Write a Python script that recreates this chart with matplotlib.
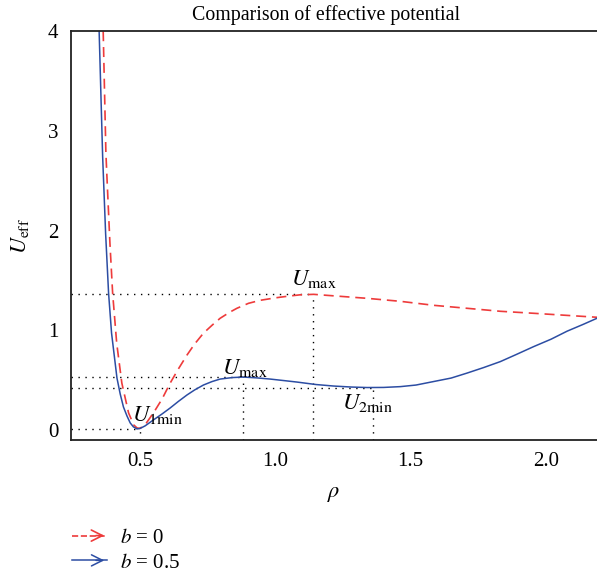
import numpy as np
import matplotlib
matplotlib.use("Agg")
import matplotlib.pyplot as plt
from matplotlib.lines import Line2D
from matplotlib.patches import FancyArrowPatch
from matplotlib.legend_handler import HandlerBase

plt.rcParams['font.family'] = ['Liberation Serif', 'DejaVu Serif']
plt.rcParams['mathtext.fontset'] = 'stix'

# b = 0 (red dashed)
rho_b0 = [0.362, 0.372, 0.377, 0.387, 0.397, 0.412, 0.431, 0.456, 0.475, 0.487,
          0.496, 0.507, 0.522, 0.548, 0.580, 0.610, 0.640, 0.672, 0.700, 0.733,
          0.765, 0.795, 0.830, 0.857, 0.900, 0.943, 1.000, 1.042, 1.090, 1.141,
          1.215, 1.339, 1.462, 1.585, 1.709, 1.832, 1.955, 2.190]
u_b0 = [4.00, 2.78, 2.47, 1.87, 1.37, 0.87, 0.47, 0.17, 0.05, 0.02,
        0.015, 0.03, 0.07, 0.17, 0.31, 0.47, 0.61, 0.75, 0.86, 0.97,
        1.05, 1.12, 1.18, 1.22, 1.27, 1.30, 1.325, 1.34, 1.355, 1.36,
        1.345, 1.32, 1.29, 1.25, 1.22, 1.19, 1.17, 1.13]

# b = 0.5 (blue solid)
rho_b05 = [0.347, 0.360, 0.371, 0.382, 0.393, 0.413, 0.425, 0.437, 0.450, 0.462,
           0.474, 0.487, 0.499, 0.517, 0.548, 0.580, 0.610, 0.640, 0.672, 0.700,
           0.733, 0.765, 0.795, 0.840, 0.881, 0.930, 0.980, 1.030, 1.079, 1.150,
           1.215, 1.280, 1.339, 1.400, 1.462, 1.520, 1.585, 1.650, 1.709, 1.770,
           1.832, 1.890, 1.955, 2.020, 2.079, 2.140, 2.190]
u_b05 = [4.00, 2.74, 1.97, 1.37, 0.97, 0.52, 0.36, 0.23, 0.14, 0.07,
         0.03, 0.01, 0.015, 0.04, 0.10, 0.16, 0.22, 0.285, 0.35, 0.40,
         0.45, 0.485, 0.51, 0.525, 0.53, 0.522, 0.51, 0.495, 0.48, 0.455,
         0.44, 0.43, 0.425, 0.426, 0.434, 0.45, 0.485, 0.52, 0.57, 0.625,
         0.685, 0.755, 0.835, 0.91, 0.99, 1.06, 1.12]

# marked extrema
extrema_rho = [1.138, 0.881, 0.499, 1.361]
extrema_u = [1.36, 0.53, 0.01, 0.425]
extrema_labels = [r'$U_{\rm max}$', r'$U_{\rm max}$', r'$U_{\rm 1min}$', r'$U_{\rm 2min}$']
label_pos = [(1.058, 1.45), (0.801, 0.56), (0.468, 0.085), (1.246, 0.21)]

legend_labels = [r'$b$ = 0', r'$b$ = 0.5']
red = '#ee3b3b'
blue = '#2c4da3'


class ArrowHandler(HandlerBase):
    # Legendeneintrag als Pfeil
    def create_artists(self, legend, orig_handle, xdescent, ydescent,
                       width, height, fontsize, trans):
        y = height / 2 - ydescent
        x0, x1 = -xdescent, -xdescent + width
        shaft = Line2D([x0, x1], [y, y], color=orig_handle.get_color(),
                       linestyle=orig_handle.get_linestyle(),
                       linewidth=orig_handle.get_linewidth(), transform=trans)
        head = FancyArrowPatch((x1 - 10, y), (x1, y), arrowstyle='->',
                               mutation_scale=20, color=orig_handle.get_color(),
                               linewidth=orig_handle.get_linewidth(), transform=trans)
        return [shaft, head]


fig = plt.figure(figsize=(5.97, 5.78), dpi=100)
ax = fig.add_axes([0.119, 0.239, 0.881, 0.707])

# gepunktete Hilfslinien
for r, u in zip(extrema_rho, extrema_u):
    ax.plot([0.243, r], [u, u], color='black', linestyle=(0, (1, 4)), linewidth=1)
    ax.plot([r, r], [-0.1, u], color='black', linestyle=(0, (1, 4)), linewidth=1)

l0, = ax.plot(rho_b0, u_b0, color=red, linestyle=(0, (6, 3.5)), linewidth=1.2)
l1, = ax.plot(rho_b05, u_b05, color=blue, linewidth=1.1)

for (tx, ty), lab in zip(label_pos, extrema_labels):
    ax.text(tx, ty, lab, fontsize=16.5, ha='left', va='baseline')

ax.set_xlim(0.243, 2.19)
ax.set_ylim(-0.1, 4.0)
ax.set_xticks([0.5, 1.0, 1.5, 2.0])
ax.set_xticklabels(['0.5', '1.0', '1.5', '2.0'])
ax.set_yticks([0, 1, 2, 3, 4])
ax.set_yticklabels(['0', '1', '2', '3', '4'])
ax.tick_params(length=0, labelsize=15, pad=9)

ax.spines['right'].set_visible(False)
for s in ['left', 'top', 'bottom']:
    ax.spines[s].set_linewidth(1.3)
    ax.spines[s].set_color('#222222')

ax.set_title('Comparison of effective potential', fontsize=14.3, pad=8, x=0.485)
ax.set_xlabel(r'$\rho$', fontsize=16, labelpad=10)
ax.set_ylabel(r'$U_{\rm eff}$', fontsize=16, labelpad=12)

ax.legend([l0, l1], legend_labels, handler_map={Line2D: ArrowHandler()},
          loc='upper left', bbox_to_anchor=(0.12, 0.086), bbox_transform=fig.transFigure,
          frameon=False, fontsize=15, handlelength=1.7, handletextpad=0.6,
          borderpad=0, borderaxespad=0, labelspacing=0.25)

fig.savefig('out.png', dpi=100)
